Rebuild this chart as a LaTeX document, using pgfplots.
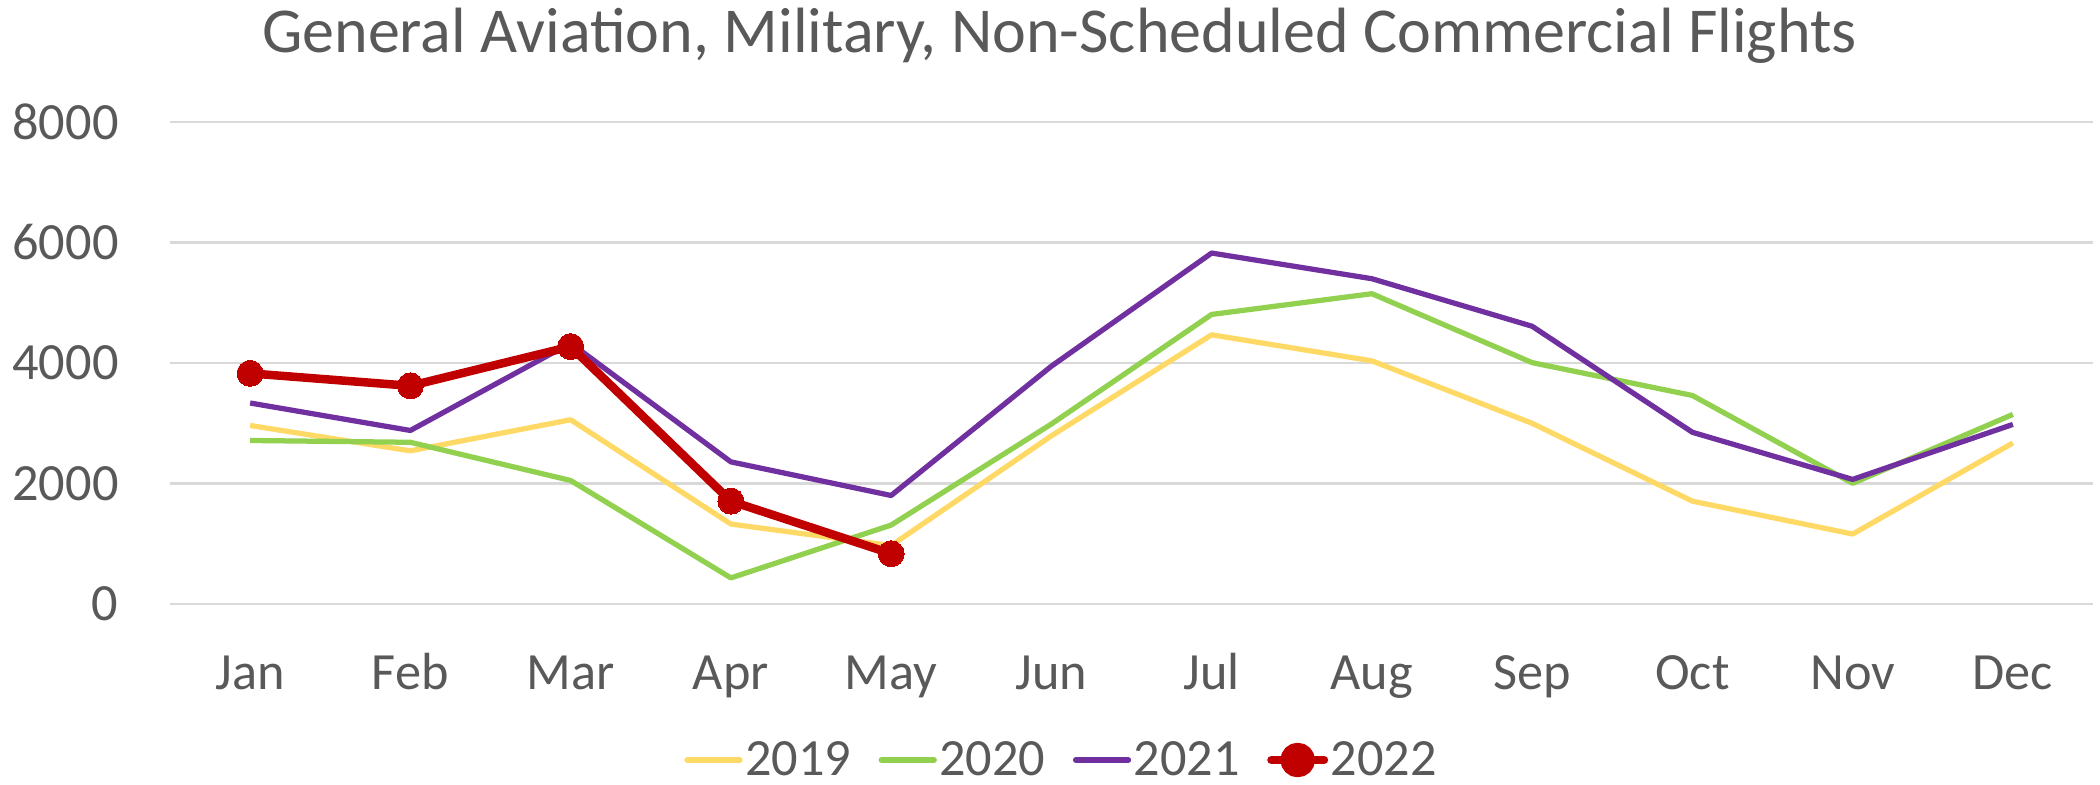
\documentclass[border=0pt]{standalone}
\usepackage{pgfplots}
\pgfplotsset{compat=1.18}
\usepackage{fontspec}
\setmainfont{Carlito}
\definecolor{c19}{HTML}{FFD966}
\definecolor{c20}{HTML}{92D050}
\definecolor{c21}{HTML}{7030A0}
\definecolor{c22}{HTML}{C00000}
\definecolor{txt}{HTML}{595959}
\definecolor{gridc}{HTML}{D9D9D9}
\begin{document}
\begin{tikzpicture}
\path[use as bounding box] (-68bp,-72.4bp) rectangle (772bp,241.6bp);
\begin{axis}[
  at={(0,0)}, anchor=south west,
  scale only axis,
  width=769.2bp, height=192.8bp,
  xmin=-0.5, xmax=11.5,
  ymin=0, ymax=8000,
  xtick={0,...,11},
  xticklabels={Jan,Feb,Mar,Apr,May,Jun,Jul,Aug,Sep,Oct,Nov,Dec},
  ytick={0,2000,4000,6000,8000},
  /pgf/number format/1000 sep={},
  /pgf/number format/assume math mode=true,
  ymajorgrids,
  major grid style={gridc, line width=0.9bp},
  axis line style={draw=none},
  major tick length=0pt,
  tick label style={font=\fontsize{21}{25}\selectfont, text=txt},
  yticklabel style={anchor=east, inner sep=0pt, xshift=-20.4bp},
  xticklabel style={anchor=base, inner sep=0pt, yshift=-34bp},
  legend columns=4,
  legend style={draw=none, fill=none, at={(axis description cs:0.4631,-0.3237)}, anchor=center,
    font=\fontsize{21}{25}\selectfont, text=txt, inner sep=0pt,
    nodes={inner sep=0pt},
    /tikz/every odd column/.append style={column sep=1bp},
    /tikz/every even column/.append style={column sep=11bp}},
  legend cell align=left,
  clip=false,
]
\addplot[c19, line width=2.1bp, line join=round, mark=none, legend image code/.code={\draw[c19, line width=2.3bp, line cap=round] (0bp,0bp) -- (21bp,0bp);}]
coordinates {(0,2963)(1,2542)(2,3058)(3,1327)(4,970)(5,2791)(6,4468)(7,4036)(8,2999)(9,1707)(10,1161)(11,2673)};
\addlegendentry{2019}
\addplot[c20, line width=2.1bp, line join=round, mark=none, legend image code/.code={\draw[c20, line width=2.3bp, line cap=round] (0bp,0bp) -- (21bp,0bp);}]
coordinates {(0,2714)(1,2684)(2,2050)(3,433)(4,1310)(5,2987)(6,4806)(7,5150)(8,4006)(9,3461)(10,2003)(11,3147)};
\addlegendentry{2020}
\addplot[c21, line width=2.1bp, line join=round, mark=none, legend image code/.code={\draw[c21, line width=2.3bp, line cap=round] (0bp,0bp) -- (21bp,0bp);}]
coordinates {(0,3336)(1,2880)(2,4330)(3,2359)(4,1801)(5,3947)(6,5825)(7,5399)(8,4610)(9,2850)(10,2068)(11,2981)};
\addlegendentry{2021}
\addplot[c22, line width=3.4bp, line join=round, mark=*, mark size=5.2bp, mark options={fill=c22, draw=c22, line width=0bp}, legend image code/.code={\draw[c22, line width=3.4bp, line cap=round] (0bp,0bp) -- (21bp,0bp); \fill[c22] (10.5bp,0bp) circle (5.2bp);}]
coordinates {(0,3828)(1,3621)(2,4273)(3,1707)(4,836)};
\addlegendentry{2022}
\end{axis}
\node[font=\fontsize{25.7}{30}\selectfont, text=txt, inner sep=0pt, anchor=base] at (355.8bp,220.4bp) {General Aviation, Military, Non-Scheduled Commercial Flights};
\end{tikzpicture}
\end{document}
